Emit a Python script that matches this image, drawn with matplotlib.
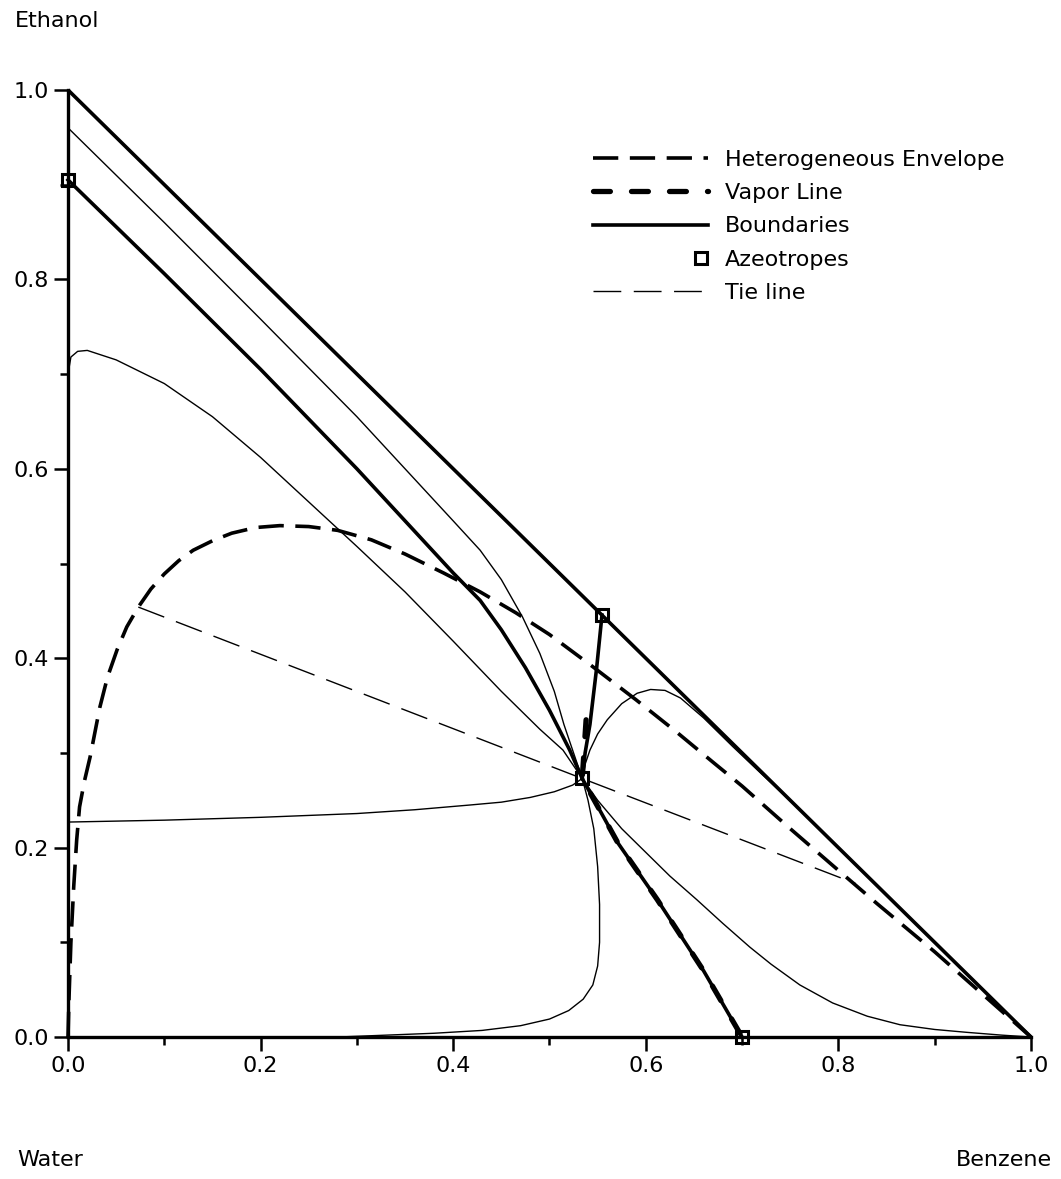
"""Ethanol / water / benzene residue curve map (right triangle layout)."""

import matplotlib
matplotlib.use("Agg")
import matplotlib.pyplot as plt
from matplotlib.legend_handler import HandlerLine2D
from matplotlib.lines import Line2D

# --- data (x = benzene, y = ethanol, water at origin) ---
hyp_x = [0.0, 1.0]
hyp_y = [1.0, 0.0]

azeo_x = [0.0, 0.5545, 0.534, 0.70]
azeo_y = [0.905, 0.4455, 0.273, 0.0]

# thick distillation boundaries
bnd1_x = [0.0, 0.1, 0.2, 0.3, 0.35, 0.4, 0.428, 0.45, 0.475, 0.5, 0.521, 0.534]
bnd1_y = [0.905, 0.806, 0.705, 0.6, 0.545, 0.49, 0.461, 0.43, 0.39, 0.345, 0.303, 0.273]
bnd2_x = [0.5545, 0.549, 0.542, 0.537, 0.534]
bnd2_y = [0.4455, 0.39, 0.33, 0.30, 0.273]
bnd3_x = [0.534, 0.571, 0.612, 0.66, 0.70]
bnd3_y = [0.273, 0.205, 0.145, 0.07, 0.0]

# heterogeneous envelope
env_x = [0.0, 0.001, 0.003, 0.006, 0.009, 0.012, 0.017, 0.023, 0.033, 0.041,
         0.051, 0.061, 0.073, 0.086, 0.1, 0.115, 0.13, 0.15, 0.17, 0.195, 0.22,
         0.25, 0.28, 0.315, 0.35, 0.39, 0.428, 0.465, 0.5, 0.545, 0.59, 0.632,
         0.67, 0.7, 0.75, 0.8, 0.84, 0.9, 0.95, 1.0]
env_y = [0.0, 0.04, 0.1, 0.16, 0.208, 0.243, 0.27, 0.296, 0.348, 0.38,
         0.409, 0.433, 0.454, 0.473, 0.489, 0.503, 0.514, 0.524, 0.532, 0.538, 0.54,
         0.539, 0.535, 0.525, 0.51, 0.49, 0.47, 0.448, 0.425, 0.391, 0.356, 0.322,
         0.29, 0.265, 0.22, 0.176, 0.141, 0.09, 0.045, 0.0]

# vapor line
vap_x = [0.538, 0.534, 0.571, 0.612, 0.66, 0.70]
vap_y = [0.335, 0.273, 0.205, 0.145, 0.07, 0.0]

# tie line
tie_x = [0.073, 0.534, 0.818]
tie_y = [0.454, 0.273, 0.162]

# thin residue curves
rc1_x = [0.0, 0.1, 0.2, 0.3, 0.35, 0.4, 0.428, 0.45, 0.472, 0.49, 0.505, 0.515, 0.525, 0.534]
rc1_y = [0.96, 0.86, 0.758, 0.655, 0.6, 0.545, 0.514, 0.483, 0.4435, 0.405, 0.365, 0.33, 0.3, 0.273]
rc2_x = [0.0, 0.003, 0.01, 0.02, 0.05, 0.1, 0.15, 0.2, 0.25, 0.3, 0.35, 0.4,
         0.45, 0.49, 0.514, 0.534]
rc2_y = [0.70, 0.718, 0.724, 0.725, 0.715, 0.69, 0.655, 0.612, 0.565, 0.518,
         0.47, 0.418, 0.365, 0.325, 0.303, 0.273]
rc3_x = [0.0, 0.1, 0.2, 0.3, 0.36, 0.4174, 0.45, 0.48, 0.505, 0.524, 0.534]
rc3_y = [0.227, 0.229, 0.232, 0.236, 0.24, 0.245, 0.248, 0.253, 0.259, 0.266, 0.273]
rc4_x = [0.534, 0.54, 0.546, 0.55, 0.552, 0.552, 0.55, 0.545, 0.535, 0.52, 0.5,
         0.47, 0.43, 0.38, 0.33, 0.28]
rc4_y = [0.273, 0.25, 0.22, 0.18, 0.14, 0.10, 0.075, 0.055, 0.04, 0.028, 0.019,
         0.012, 0.007, 0.004, 0.002, 0.0]
rc5_x = [0.534, 0.537, 0.542, 0.55, 0.56, 0.575, 0.591, 0.605, 0.62, 0.636,
         0.66, 0.69, 0.72, 0.76]
rc5_y = [0.273, 0.288, 0.303, 0.32, 0.335, 0.352, 0.363, 0.367, 0.366, 0.358,
         0.337, 0.307, 0.278, 0.24]
rc6_x = [0.534, 0.55, 0.575, 0.6, 0.625, 0.653, 0.68, 0.708, 0.73, 0.76, 0.794,
         0.83, 0.864, 0.9, 0.933, 0.97, 1.0]
rc6_y = [0.273, 0.25, 0.22, 0.195, 0.17, 0.145, 0.12, 0.095, 0.077, 0.055, 0.036,
         0.022, 0.013, 0.008, 0.005, 0.002, 0.0]

major_ticks = [0.0, 0.2, 0.4, 0.6, 0.8, 1.0]
minor_ticks = [0.1, 0.3, 0.5, 0.7, 0.9]
tick_labels = ["0.0", "0.2", "0.4", "0.6", "0.8", "1.0"]

legend_labels = ["Heterogeneous Envelope", "Vapor Line", "Boundaries",
                 "Azeotropes", "Tie line"]

plt.rcParams["font.family"] = "DejaVu Sans"
FS = 16
THICK = 2.6
THIN = 1.0
env_dash = (0, (7, 3.2))
vap_dash = (0, (3.2, 4.0))
tie_dash = (0, (20, 9))


class MarkerAtEnd(HandlerLine2D):
    """Legend handler that puts a single marker at the right end of the handle."""

    def get_xdata(self, legend, xdescent, ydescent, width, height, fontsize):
        x_end = -xdescent + width - 5
        return [x_end], [x_end]


fig = plt.figure(figsize=(10.61, 11.79), dpi=100)
ax = fig.add_axes([0.0641, 0.1204, 0.9076, 0.8033])

ax.plot(hyp_x, hyp_y, color="black", lw=THICK, solid_capstyle="butt",
        clip_on=False)

for xs, ys in [(rc1_x, rc1_y), (rc2_x, rc2_y), (rc3_x, rc3_y),
               (rc4_x, rc4_y), (rc5_x, rc5_y), (rc6_x, rc6_y)]:
    ax.plot(xs, ys, color="black", lw=THIN, clip_on=False)

for xs, ys in [(bnd1_x, bnd1_y), (bnd2_x, bnd2_y), (bnd3_x, bnd3_y)]:
    ax.plot(xs, ys, color="black", lw=THICK, clip_on=False)

ax.plot(env_x, env_y, color="black", lw=THICK, linestyle=env_dash,
        clip_on=False)
ax.plot(vap_x, vap_y, color="black", lw=THICK + 1.2, linestyle=vap_dash,
        dash_capstyle="round", clip_on=False)
ax.plot(tie_x, tie_y, color="black", lw=THIN, linestyle=tie_dash,
        clip_on=False)
ax.plot(azeo_x, azeo_y, linestyle="none", marker="s", markersize=9,
        markerfacecolor="none", markeredgecolor="black", markeredgewidth=2.2,
        clip_on=False, zorder=5)

ax.set_xlim(0, 1)
ax.set_ylim(0, 1)
for side in ["top", "right"]:
    ax.spines[side].set_visible(False)
for side in ["left", "bottom"]:
    ax.spines[side].set_linewidth(2.4)
ax.set_xticks(major_ticks)
ax.set_xticklabels(tick_labels)
ax.set_yticks(major_ticks)
ax.set_yticklabels(tick_labels)
ax.set_xticks(minor_ticks, minor=True)
ax.set_yticks(minor_ticks, minor=True)
ax.tick_params(which="major", length=10, width=1.8, direction="out",
               labelsize=FS, pad=4)
ax.tick_params(which="minor", length=6, width=1.8, direction="out")

azeo_handle = Line2D([], [], color="black", linestyle="none", marker="s",
                     markersize=8, markerfacecolor="none", markeredgewidth=2.2)
handles = [
    Line2D([], [], color="black", lw=THICK, linestyle=env_dash),
    Line2D([], [], color="black", lw=THICK + 1.2, linestyle=vap_dash,
           dash_capstyle="round"),
    Line2D([], [], color="black", lw=THICK),
    azeo_handle,
    Line2D([], [], color="black", lw=THIN, linestyle=tie_dash),
]
ax.legend(handles, legend_labels, loc="upper left",
          bbox_to_anchor=(0.545, 0.937), frameon=False, fontsize=FS,
          handlelength=5.2, handletextpad=0.75, labelspacing=0.6,
          borderpad=0, borderaxespad=0,
          handler_map={azeo_handle: MarkerAtEnd(numpoints=2)})

fig.text(15 / 1061, 1 - 21 / 1179, "Ethanol", fontsize=FS, va="center",
         ha="left")
fig.text(17 / 1061, 1 - 1160 / 1179, "Water", fontsize=FS, va="center",
         ha="left")
fig.text(1052 / 1061, 1 - 1160 / 1179, "Benzene", fontsize=FS, va="center",
         ha="right")

fig.savefig("out.png", dpi=100)
